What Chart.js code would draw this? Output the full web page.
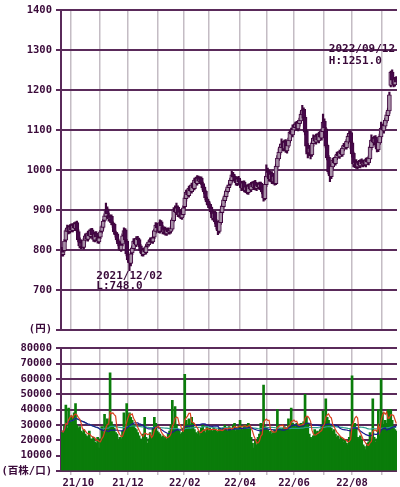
<!DOCTYPE html>
<html>
<head>
<meta charset="utf-8">
<script src="https://cdn.jsdelivr.net/npm/chart.js@4.4.1/dist/chart.umd.min.js"></script>
<style>
  html, body { margin: 0; padding: 0; background: #fff; }
  #wrap { position: relative; width: 400px; height: 487px; }
  #price { position: absolute; left: 0; top: 0; }
  #vol { position: absolute; left: 0; top: 338px; }
</style>
</head>
<body>
<div id="wrap">
  <canvas id="price" width="400" height="340"></canvas>
  <canvas id="vol" width="400" height="149"></canvas>
</div>
<script>
// Daily candles, 2021/09/21 .. 2022/09/15 (243 trading days)
const open = [
  800, 788, 798, 824, 846, 857, 846,
  860, 848, 864, 853, 868, 846, 826, 808, 820, 806, 824, 838, 826, 844, 833, 850, 836, 824, 842, 830, 820,
  832, 846, 856, 874, 884, 903, 888, 876, 884, 866, 864, 843, 840, 823, 818, 800, 814, 836, 850, 822,
  788, 778, 766, 792, 803, 824, 812, 830, 826, 810, 800, 788, 802, 793, 810, 813, 822, 828, 820, 832, 846, 864,
  858, 846, 870, 858, 843, 854, 840, 852, 843, 846, 852, 873, 902, 893, 907, 886, 897, 880, 888,
  908, 928, 947, 936, 957, 946, 964, 953, 977, 966, 982, 970, 980, 966, 957, 947, 928, 922,
  914, 907, 897, 878, 894, 872, 856, 846, 868, 893, 908, 923, 933, 946, 956, 964, 973, 990, 984, 977, 966, 980,
  972, 964, 953, 970, 948, 960, 943, 962, 950, 967, 956, 970, 953, 964, 956, 967, 957, 947, 928, 963,
  982, 997, 976, 992, 970, 987, 966, 1008, 1028, 1043, 1056, 1067, 1053, 1072, 1048, 1060, 1073, 1097, 1088,
  1100, 1106, 1117, 1103, 1116, 1123, 1138, 1152, 1132, 1097, 1062, 1043, 1057, 1038, 1066, 1082, 1070, 1087, 1073, 1092, 1080, 1096,
  1122, 1103, 1062, 1032, 997, 983, 1008, 1027, 1016, 1030, 1042, 1033, 1047, 1038, 1053, 1064, 1056, 1070, 1083, 1094,
  1068, 1042, 1013, 1022, 1008, 1020, 1010, 1024, 1013, 1022, 1013, 1027, 1018, 1028, 1056, 1077, 1068, 1082, 1067, 1050, 1068, 1083,
  1108, 1098, 1110, 1123, 1136, 1148, 1212, 1245, 1227, 1213, 1230
];
const high = [
  806, 800, 826, 852, 862, 861, 863,
  865, 866, 868, 870, 872, 850, 830, 823, 824, 829, 840, 842, 847, 850, 853, 854, 840, 845, 846, 834, 835,
  849, 862, 876, 890, 917, 908, 892, 887, 888, 870, 867, 847, 843, 827, 820, 816, 840, 855, 853, 826,
  792, 781, 794, 810, 828, 828, 833, 834, 829, 813, 803, 804, 806, 812, 819, 824, 830, 831, 834, 852, 868, 867,
  862, 875, 873, 861, 856, 857, 854, 855, 851, 859, 880, 906, 910, 917, 910, 899, 900, 894, 910,
  935, 950, 952, 960, 962, 967, 968, 980, 982, 986, 985, 983, 983, 970, 960, 950, 932, 926,
  918, 910, 900, 896, 897, 875, 860, 874, 900, 915, 930, 940, 952, 962, 968, 980, 997, 994, 988, 980, 983, 984,
  976, 968, 972, 973, 962, 963, 965, 966, 969, 971, 972, 974, 966, 968, 970, 970, 960, 951, 970, 1013,
  1005, 1000, 995, 996, 990, 990, 1015, 1036, 1053, 1065, 1078, 1072, 1075, 1076, 1068, 1080, 1100, 1105, 1113,
  1115, 1120, 1122, 1124, 1130, 1146, 1162, 1156, 1136, 1100, 1066, 1060, 1062, 1072, 1088, 1086, 1090, 1091, 1095, 1097, 1103, 1140,
  1128, 1106, 1065, 1036, 1000, 1015, 1030, 1031, 1036, 1045, 1046, 1050, 1051, 1060, 1067, 1068, 1076, 1090, 1098, 1097,
  1071, 1045, 1025, 1026, 1022, 1024, 1026, 1028, 1024, 1026, 1030, 1031, 1035, 1063, 1088, 1082, 1085, 1086, 1070, 1075, 1090, 1120,
  1115, 1118, 1130, 1145, 1155, 1195, 1248, 1251, 1230, 1232, 1234
];
const low = [
  785, 784, 796, 820, 840, 840, 842,
  845, 845, 850, 849, 844, 820, 805, 803, 804, 802, 820, 824, 822, 830, 829, 834, 821, 820, 828, 817, 816,
  828, 842, 852, 870, 880, 884, 872, 871, 863, 856, 840, 832, 820, 810, 798, 796, 810, 832, 820, 785,
  770, 748, 760, 788, 800, 810, 808, 820, 808, 793, 785, 784, 790, 789, 806, 809, 818, 817, 816, 828, 842, 850,
  843, 842, 855, 840, 839, 837, 836, 840, 839, 842, 849, 870, 889, 889, 883, 882, 878, 876, 884,
  904, 922, 933, 932, 943, 942, 950, 950, 963, 962, 967, 966, 963, 950, 940, 925, 914, 906,
  900, 890, 875, 874, 865, 852, 838, 842, 864, 889, 904, 918, 929, 942, 951, 960, 969, 977, 970, 962, 961, 965,
  957, 948, 949, 945, 943, 940, 939, 947, 946, 953, 951, 950, 948, 953, 951, 950, 940, 922, 925, 958,
  977, 972, 970, 966, 965, 962, 963, 1004, 1024, 1038, 1050, 1048, 1048, 1044, 1042, 1056, 1068, 1084, 1083,
  1095, 1101, 1099, 1098, 1110, 1118, 1132, 1124, 1088, 1040, 1030, 1036, 1028, 1034, 1060, 1066, 1065, 1070, 1068, 1076, 1075, 1092,
  1098, 1055, 1025, 990, 971, 978, 1003, 1013, 1012, 1026, 1030, 1029, 1035, 1034, 1048, 1053, 1052, 1066, 1078, 1053,
  1032, 1008, 1006, 1004, 1003, 1006, 1005, 1009, 1008, 1010, 1008, 1014, 1013, 1025, 1050, 1062, 1063, 1058, 1045, 1046, 1064, 1078,
  1094, 1092, 1105, 1118, 1130, 1142, 1208, 1218, 1208, 1210, 1214
];
const close = [
  792, 795, 822, 848, 855, 845, 858,
  850, 862, 855, 866, 848, 825, 810, 818, 808, 825, 835, 828, 842, 835, 848, 838, 826, 840, 832, 822, 830,
  845, 858, 872, 885, 900, 890, 878, 882, 868, 862, 845, 838, 825, 815, 802, 812, 835, 848, 825, 790,
  775, 768, 790, 805, 822, 815, 828, 825, 812, 798, 790, 800, 795, 808, 815, 820, 826, 822, 830, 848, 862, 855,
  848, 868, 860, 845, 852, 842, 850, 845, 848, 855, 875, 900, 895, 905, 888, 895, 882, 890, 905,
  930, 945, 938, 955, 948, 962, 955, 975, 968, 980, 972, 978, 968, 955, 945, 930, 920, 912,
  905, 895, 880, 892, 870, 858, 848, 870, 895, 910, 925, 935, 948, 958, 962, 975, 988, 982, 975, 968, 978, 970,
  962, 955, 968, 950, 958, 945, 960, 952, 965, 958, 968, 955, 962, 958, 965, 955, 945, 930, 965, 985,
  995, 978, 990, 972, 985, 968, 1010, 1030, 1045, 1058, 1065, 1055, 1070, 1050, 1062, 1075, 1095, 1090, 1102,
  1108, 1115, 1105, 1118, 1125, 1140, 1150, 1130, 1095, 1060, 1045, 1055, 1040, 1068, 1080, 1072, 1085, 1075, 1090, 1082, 1098, 1120,
  1105, 1060, 1030, 995, 985, 1010, 1025, 1018, 1032, 1040, 1035, 1045, 1040, 1055, 1062, 1058, 1072, 1085, 1092, 1070,
  1040, 1015, 1020, 1010, 1018, 1012, 1022, 1015, 1020, 1015, 1025, 1020, 1030, 1058, 1075, 1070, 1080, 1065, 1052, 1070, 1085, 1105,
  1100, 1112, 1125, 1138, 1150, 1188, 1245, 1225, 1215, 1228, 1220
];
// volume, in 百株
const volume = [
  26000, 25000, 30000, 43000, 28000, 41000, 33000,
  36000, 35000, 38000, 44000, 30000, 28000, 29000, 26000, 25000, 27000, 24000, 23000, 22000, 26000, 21000, 20000, 22000, 19000, 18000, 22000, 15000,
  21000, 29000, 25000, 37000, 27000, 34000, 30000, 64000, 32000, 30000, 28000, 25000, 24000, 20000, 22000, 21000, 26000, 38000, 30000, 44000,
  36000, 38000, 35000, 33000, 30000, 28000, 27000, 25000, 23000, 21000, 20000, 24000, 35000, 22000, 18000, 21000, 25000, 23000, 28000, 35000, 31000, 26000,
  25000, 24000, 22000, 23000, 21000, 22000, 20000, 24000, 26000, 30000, 46000, 28000, 42000, 30000, 27000, 26000, 24000, 25000, 28000,
  63000, 33000, 30000, 34000, 28000, 35000, 31000, 27000, 25000, 24000, 26000, 23000, 28000, 30000, 27000, 25000, 29000, 26000,
  28000, 27000, 26000, 28000, 27000, 26000, 25000, 28000, 27000, 26000, 28000, 30000, 27000, 26000, 29000, 28000, 27000, 30000, 31000, 26000, 28000, 29000,
  33000, 28000, 27000, 30000, 29000, 30000, 31000, 29000, 22000, 18000, 15000, 20000, 17000, 22000, 24000, 31000, 25000, 56000, 29000, 28000,
  27000, 25000, 26000, 24000, 25000, 27000, 26000, 40000, 27000, 28000, 27000, 28000, 29000, 28000, 27000, 34000, 30000, 41000, 31000,
  30000, 29000, 31000, 30000, 29000, 31000, 30000, 32000, 50000, 35000, 31000, 24000, 22000, 21000, 23000, 27000, 25000, 26000, 24000, 27000, 30000, 39000,
  32000, 47000, 35000, 33000, 30000, 28000, 26000, 27000, 24000, 22000, 23000, 20000, 22000, 21000, 19000, 20000, 18000, 17000, 22000, 27000,
  62000, 30000, 31000, 28000, 22000, 21000, 23000, 20000, 17000, 16000, 14000, 18000, 19000, 25000, 20000, 47000, 22000, 19000, 21000, 40000, 24000, 60000,
  38000, 30000, 33000, 31000, 40000, 39000, 40000, 33000, 29000, 27000, 26000
];
// first trading day of each month (index into the arrays above)
const monthStarts = [7, 28, 48, 70, 89, 107, 129, 149, 168, 190, 210, 232];
const monthLabels = ['21/10', '21/11', '21/12', '22/01', '22/02', '22/03', '22/04', '22/05', '22/06', '22/07', '22/08', '22/09'];
const highDate = '2022/09/12';
const lowDate = '2021/12/02';

const ink = '#3a0a3a';
const hLine = '#5a2a5a';
const vLine = '#c4bcc4';
const font = { family: "'DejaVu Sans Mono', 'Noto Sans CJK JP', monospace", size: 10.5, weight: 'bold' };

const days = close.map((_, i) => i);
const monthSet = new Set(monthStarts);
const monthGrid = ctx => monthSet.has(ctx.index) ? vLine : 'rgba(0,0,0,0)';

// every other month gets a label; the first one is nudged right so it stays inside the plot
const labelAt = {};
monthStarts.forEach((s, k) => {
    if (k % 2 === 0) labelAt[k === 0 ? s + 5 : s] = monthLabels[k];
});

function movingAvg(src, n) {
    return src.map((_, i) => {
        const part = src.slice(Math.max(0, i - n + 1), i + 1);
        return part.reduce((a, b) => a + b, 0) / part.length;
    });
}

const extremeLabels = {
    id: 'extremeLabels',
    afterDatasetsDraw(chart) {
        const { ctx, chartArea, scales } = chart;
        const hi = high.indexOf(Math.max(...high));
        const lo = low.indexOf(Math.min(...low));
        ctx.save();
        ctx.font = "bold 11px 'DejaVu Sans Mono', monospace";
        ctx.fillStyle = ink;
        ctx.textBaseline = 'middle';
        ctx.textAlign = 'left';
        const place = (i, lines, y1, y2) => {
            const w = ctx.measureText(lines[0]).width;
            let left = scales.x.getPixelForValue(i) - w / 2;
            left = Math.max(chartArea.left + 2, Math.min(left, chartArea.right - w - 2));
            ctx.fillText(lines[0], left, y1);
            ctx.fillText(lines[1], left, y2);
        };
        const yH = scales.y.getPixelForValue(high[hi]);
        place(hi, [highDate, 'H:' + high[hi].toFixed(1)], yH - 21, yH - 9);
        const yL = scales.y.getPixelForValue(low[lo]);
        place(lo, [lowDate, 'L:' + low[lo].toFixed(1)], yL + 6, yL + 16);
        ctx.restore();
    }
};

// Price chart
new Chart(document.getElementById('price'), {
    type: 'bar',
    data: {
        labels: days,
        datasets: [
            {
                data: open.map((o, i) => [o, close[i]]),
                backgroundColor: ctx => close[ctx.dataIndex] >= open[ctx.dataIndex] ? '#a890a8' : '#46084a',
                borderColor: '#40063f',
                borderWidth: 1,
                borderSkipped: false,
                barThickness: 4,
                grouped: false
            },
            {
                data: low.map((l, i) => [l, high[i]]),
                backgroundColor: '#40063f',
                barThickness: 1.5,
                grouped: false
            }
        ]
    },
    options: {
        responsive: false,
        animation: false,
        devicePixelRatio: 1,
        layout: { padding: { top: 7, right: 3, bottom: 10, left: 0 } },
        plugins: { legend: { display: false }, tooltip: { enabled: false } },
        scales: {
            x: {
                ticks: { display: false },
                grid: { color: monthGrid, lineWidth: 1.5, drawTicks: false },
                border: { display: false },
                afterFit: s => { s.height = 0; }
            },
            y: {
                min: 600,
                max: 1400,
                ticks: { stepSize: 100, autoSkip: false, color: ink, font: font, padding: 4, callback: v => v === 600 ? '(円)' : v },
                grid: { color: hLine, lineWidth: 2, tickLength: 5 },
                border: { color: hLine, width: 2 },
                afterFit: s => { s.width = 61; }
            }
        }
    },
    plugins: [extremeLabels]
});

// Volume chart
new Chart(document.getElementById('vol'), {
    type: 'bar',
    data: {
        labels: days,
        datasets: [
            { type: 'line', data: movingAvg(volume, 5), borderColor: '#d8401e', borderWidth: 1.2, pointRadius: 0, tension: 0 },
            { type: 'line', data: movingAvg(volume, 25), borderColor: '#1c1c90', borderWidth: 1.2, pointRadius: 0, tension: 0 },
            { type: 'line', data: movingAvg(volume, 75), borderColor: '#2a9d8a', borderWidth: 1.2, pointRadius: 0, tension: 0 },
            { data: volume, backgroundColor: '#0a7c0a', barThickness: 2 }
        ]
    },
    options: {
        responsive: false,
        animation: false,
        devicePixelRatio: 1,
        layout: { padding: { top: 8, right: 3, bottom: 0, left: 0 } },
        plugins: { legend: { display: false }, tooltip: { enabled: false } },
        scales: {
            x: {
                ticks: {
                    autoSkip: false, maxRotation: 0, minRotation: 0, color: ink, font: font, padding: 2,
                    callback: (v, i) => labelAt[i] || ''
                },
                grid: { color: monthGrid, lineWidth: 1.5, tickLength: 4 },
                border: { display: false },
                afterFit: s => { s.height = 16; }
            },
            y: {
                min: 0,
                max: 80000,
                ticks: { stepSize: 10000, autoSkip: false, color: ink, font: font, padding: 4, callback: v => v === 0 ? '(百株/口)' : v },
                grid: { color: hLine, lineWidth: 2, tickLength: 5 },
                border: { color: hLine, width: 2 },
                afterFit: s => { s.width = 61; }
            }
        }
    }
});
</script>
</body>
</html>
